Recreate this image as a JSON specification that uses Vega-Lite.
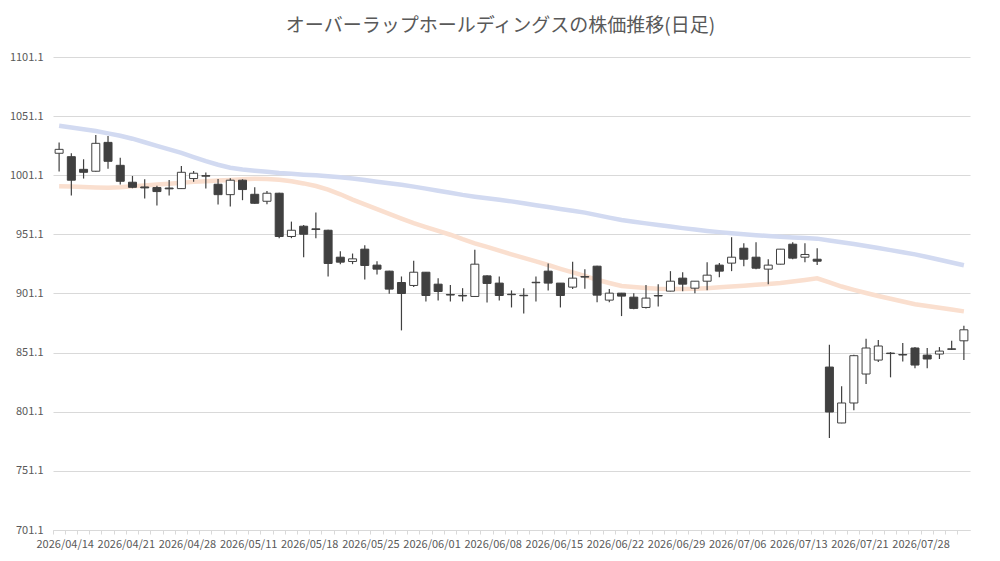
{
  "$schema": "https://vega.github.io/schema/vega-lite/v6.json",
  "autosize": "none",
  "width": 917,
  "height": 473,
  "padding": {"left": 53, "top": 57, "right": 30, "bottom": 31},
  "background": "white",
  "title": {
    "text": "オーバーラップホールディングスの株価推移(日足)",
    "font": "Noto Sans CJK JP",
    "fontSize": 19,
    "fontWeight": "normal",
    "color": "#595959",
    "offset": 15,
    "dx": -11
  },
  "config": {"view": {"stroke": null}, "font": "Noto Sans CJK JP"},
  "data": {
    "values": [
      {"d": "2026/04/14", "o": 1019.7, "h": 1028.9, "l": 1004.2, "c": 1023.0, "m1": 1043.0, "m2": 991.8},
      {"d": "2026/04/15", "o": 1016.8, "h": 1019.7, "l": 983.9, "c": 996.9, "m1": 1041.5, "m2": 991.5},
      {"d": "2026/04/16", "o": 1006.1, "h": 1014.6, "l": 998.3, "c": 1003.6, "m1": 1040.0, "m2": 991.2},
      {"d": "2026/04/17", "o": 1004.5, "h": 1035.1, "l": 1004.0, "c": 1028.1, "m1": 1038.5, "m2": 990.8},
      {"d": "2026/04/20", "o": 1028.9, "h": 1034.3, "l": 1006.7, "c": 1012.9, "m1": 1036.5, "m2": 990.6},
      {"d": "2026/04/21", "o": 1009.5, "h": 1016.0, "l": 993.2, "c": 996.0, "m1": 1034.5, "m2": 991.0},
      {"d": "2026/04/22", "o": 995.2, "h": 1000.5, "l": 990.1, "c": 990.9, "m1": 1032.0, "m2": 991.7},
      {"d": "2026/04/23", "o": 991.2, "h": 997.7, "l": 981.4, "c": 990.4, "m1": 1029.0, "m2": 992.4},
      {"d": "2026/04/24", "o": 990.7, "h": 992.3, "l": 975.5, "c": 987.3, "m1": 1026.0, "m2": 993.2},
      {"d": "2026/04/27", "o": 990.3, "h": 997.1, "l": 983.9, "c": 989.6, "m1": 1023.0, "m2": 994.0},
      {"d": "2026/04/28", "o": 989.8, "h": 1009.0, "l": 989.4, "c": 1003.6, "m1": 1020.0, "m2": 994.8},
      {"d": "2026/04/30", "o": 998.3, "h": 1004.7, "l": 995.7, "c": 1002.8, "m1": 1016.5, "m2": 995.5},
      {"d": "2026/05/01", "o": 1000.8, "h": 1003.4, "l": 989.8, "c": 1000.3, "m1": 1013.0, "m2": 996.1},
      {"d": "2026/05/07", "o": 993.5, "h": 998.0, "l": 976.3, "c": 984.7, "m1": 1010.0, "m2": 996.6},
      {"d": "2026/05/08", "o": 984.7, "h": 998.5, "l": 974.6, "c": 996.9, "m1": 1007.5, "m2": 997.1},
      {"d": "2026/05/11", "o": 996.9, "h": 997.7, "l": 980.0, "c": 989.0, "m1": 1006.0, "m2": 997.7},
      {"d": "2026/05/12", "o": 985.0, "h": 990.9, "l": 977.0, "c": 977.4, "m1": 1005.0, "m2": 998.2},
      {"d": "2026/05/13", "o": 979.1, "h": 987.8, "l": 976.6, "c": 985.9, "m1": 1004.0, "m2": 998.0},
      {"d": "2026/05/14", "o": 985.9, "h": 986.2, "l": 947.9, "c": 949.3, "m1": 1003.0, "m2": 997.3},
      {"d": "2026/05/15", "o": 949.3, "h": 961.9, "l": 947.9, "c": 954.6, "m1": 1002.3, "m2": 996.0},
      {"d": "2026/05/18", "o": 958.0, "h": 959.0, "l": 931.8, "c": 951.2, "m1": 1001.6, "m2": 994.2},
      {"d": "2026/05/19", "o": 955.8, "h": 969.5, "l": 947.9, "c": 955.2, "m1": 1001.0, "m2": 992.0},
      {"d": "2026/05/20", "o": 954.6, "h": 955.0, "l": 915.5, "c": 926.5, "m1": 1000.3, "m2": 989.0},
      {"d": "2026/05/21", "o": 931.8, "h": 936.9, "l": 925.9, "c": 927.6, "m1": 999.5, "m2": 985.0},
      {"d": "2026/05/22", "o": 928.2, "h": 934.9, "l": 925.9, "c": 930.4, "m1": 998.3, "m2": 980.5},
      {"d": "2026/05/25", "o": 938.6, "h": 941.9, "l": 913.0, "c": 924.8, "m1": 997.0, "m2": 976.5},
      {"d": "2026/05/26", "o": 925.1, "h": 928.4, "l": 917.2, "c": 921.7, "m1": 995.6, "m2": 972.5},
      {"d": "2026/05/27", "o": 920.0, "h": 920.3, "l": 900.9, "c": 904.8, "m1": 994.3, "m2": 968.5},
      {"d": "2026/05/28", "o": 910.4, "h": 915.5, "l": 869.9, "c": 901.1, "m1": 993.0, "m2": 964.5},
      {"d": "2026/05/29", "o": 907.9, "h": 928.7, "l": 906.5, "c": 919.1, "m1": 991.5, "m2": 960.6},
      {"d": "2026/06/01", "o": 919.1, "h": 919.3, "l": 894.4, "c": 899.4, "m1": 989.8, "m2": 957.3},
      {"d": "2026/06/02", "o": 909.0, "h": 914.1, "l": 895.2, "c": 902.8, "m1": 988.0, "m2": 954.0},
      {"d": "2026/06/03", "o": 900.3, "h": 908.2, "l": 894.4, "c": 899.8, "m1": 986.3, "m2": 950.8},
      {"d": "2026/06/04", "o": 899.5, "h": 905.6, "l": 894.4, "c": 899.0, "m1": 984.5, "m2": 947.0},
      {"d": "2026/06/05", "o": 898.6, "h": 938.0, "l": 898.4, "c": 925.9, "m1": 983.0, "m2": 943.5},
      {"d": "2026/06/08", "o": 916.0, "h": 916.6, "l": 893.5, "c": 909.6, "m1": 981.6, "m2": 940.5},
      {"d": "2026/06/09", "o": 909.9, "h": 915.5, "l": 895.2, "c": 899.4, "m1": 980.3, "m2": 937.3},
      {"d": "2026/06/10", "o": 900.5, "h": 903.7, "l": 889.3, "c": 900.1, "m1": 979.0, "m2": 934.2},
      {"d": "2026/06/11", "o": 899.6, "h": 905.6, "l": 884.2, "c": 899.2, "m1": 977.4, "m2": 931.2},
      {"d": "2026/06/12", "o": 910.6, "h": 915.5, "l": 894.4, "c": 910.2, "m1": 975.8, "m2": 928.2},
      {"d": "2026/06/15", "o": 920.0, "h": 926.5, "l": 903.7, "c": 909.9, "m1": 974.2, "m2": 925.2},
      {"d": "2026/06/16", "o": 909.9, "h": 910.0, "l": 889.3, "c": 899.4, "m1": 972.6, "m2": 922.0},
      {"d": "2026/06/17", "o": 906.5, "h": 927.9, "l": 904.8, "c": 914.1, "m1": 971.0, "m2": 919.0},
      {"d": "2026/06/18", "o": 915.4, "h": 921.7, "l": 905.1, "c": 915.0, "m1": 969.5, "m2": 916.0},
      {"d": "2026/06/19", "o": 924.2, "h": 924.5, "l": 893.8, "c": 899.7, "m1": 967.4, "m2": 912.7},
      {"d": "2026/06/22", "o": 895.5, "h": 904.8, "l": 893.8, "c": 901.4, "m1": 965.3, "m2": 910.0},
      {"d": "2026/06/23", "o": 901.4, "h": 901.6, "l": 882.0, "c": 898.9, "m1": 963.3, "m2": 907.5},
      {"d": "2026/06/24", "o": 898.0, "h": 901.4, "l": 887.8, "c": 888.5, "m1": 961.8, "m2": 906.5},
      {"d": "2026/06/25", "o": 889.3, "h": 908.2, "l": 888.5, "c": 897.2, "m1": 960.4, "m2": 905.7},
      {"d": "2026/06/26", "o": 899.4, "h": 909.0, "l": 890.1, "c": 899.0, "m1": 959.0, "m2": 905.1},
      {"d": "2026/06/29", "o": 903.1, "h": 920.0, "l": 902.9, "c": 911.5, "m1": 957.7, "m2": 905.0},
      {"d": "2026/06/30", "o": 914.1, "h": 919.1, "l": 903.1, "c": 909.0, "m1": 956.4, "m2": 905.0},
      {"d": "2026/07/01", "o": 905.6, "h": 911.7, "l": 901.4, "c": 911.5, "m1": 955.2, "m2": 905.1},
      {"d": "2026/07/02", "o": 911.5, "h": 927.6, "l": 903.9, "c": 916.6, "m1": 954.0, "m2": 905.6},
      {"d": "2026/07/03", "o": 925.1, "h": 926.8, "l": 914.9, "c": 920.0, "m1": 953.0, "m2": 906.3},
      {"d": "2026/07/06", "o": 926.8, "h": 948.7, "l": 920.0, "c": 931.8, "m1": 952.0, "m2": 907.0},
      {"d": "2026/07/07", "o": 939.4, "h": 943.6, "l": 924.2, "c": 930.1, "m1": 951.2, "m2": 907.7},
      {"d": "2026/07/08", "o": 931.8, "h": 944.5, "l": 921.7, "c": 922.5, "m1": 950.4, "m2": 908.4},
      {"d": "2026/07/09", "o": 921.7, "h": 930.1, "l": 909.0, "c": 925.1, "m1": 949.7, "m2": 909.2},
      {"d": "2026/07/10", "o": 925.9, "h": 938.8, "l": 925.7, "c": 938.6, "m1": 949.0, "m2": 910.0},
      {"d": "2026/07/13", "o": 942.8, "h": 944.5, "l": 930.1, "c": 931.0, "m1": 948.5, "m2": 911.3},
      {"d": "2026/07/14", "o": 931.8, "h": 943.6, "l": 927.6, "c": 934.1, "m1": 948.0, "m2": 912.6},
      {"d": "2026/07/15", "o": 930.1, "h": 939.4, "l": 925.1, "c": 928.4, "m1": 947.5, "m2": 914.0},
      {"d": "2026/07/16", "o": 838.9, "h": 857.8, "l": 778.9, "c": 800.9, "m1": 946.0, "m2": 910.5},
      {"d": "2026/07/17", "o": 791.6, "h": 822.6, "l": 791.4, "c": 808.5, "m1": 944.5, "m2": 907.0},
      {"d": "2026/07/21", "o": 808.5, "h": 849.3, "l": 802.3, "c": 848.5, "m1": 943.0, "m2": 904.2},
      {"d": "2026/07/22", "o": 833.0, "h": 862.9, "l": 824.6, "c": 855.0, "m1": 941.2, "m2": 901.5},
      {"d": "2026/07/23", "o": 844.8, "h": 861.7, "l": 843.1, "c": 856.7, "m1": 939.5, "m2": 899.0},
      {"d": "2026/07/24", "o": 850.7, "h": 851.6, "l": 830.2, "c": 850.3, "m1": 937.8, "m2": 896.7},
      {"d": "2026/07/27", "o": 849.5, "h": 859.2, "l": 843.7, "c": 849.1, "m1": 936.0, "m2": 894.3},
      {"d": "2026/07/28", "o": 855.0, "h": 855.8, "l": 837.8, "c": 840.6, "m1": 934.2, "m2": 892.0},
      {"d": "2026/07/29", "o": 849.0, "h": 855.0, "l": 837.8, "c": 845.7, "m1": 932.0, "m2": 890.5},
      {"d": "2026/07/30", "o": 849.9, "h": 855.8, "l": 845.7, "c": 852.4, "m1": 929.7, "m2": 889.0},
      {"d": "2026/07/31", "o": 854.3, "h": 861.1, "l": 853.3, "c": 853.9, "m1": 927.3, "m2": 887.5},
      {"d": "2026/08/03", "o": 861.1, "h": 873.8, "l": 844.8, "c": 870.4, "m1": 925.0, "m2": 886.0}
    ]
  },
  "encoding": {
    "x": {
      "field": "d",
      "type": "ordinal",
      "sort": null,
      "scale": {"type": "band", "paddingInner": 0, "paddingOuter": 0},
      "axis": {
        "title": null,
        "bandPosition": 0,
        "labelOffset": 6.1,
        "labelAngle": 0,
        "labelOverlap": false,
        "labelExpr": "indexof(['2026/04/14','2026/04/21','2026/04/28','2026/05/11','2026/05/18','2026/05/25','2026/06/01','2026/06/08','2026/06/15','2026/06/22','2026/06/29','2026/07/06','2026/07/13','2026/07/21','2026/07/28'], datum.value) >= 0 ? datum.value : ''",
        "labelColor": "#595959",
        "labelFontSize": 11,
        "labelPadding": 4,
        "tickSize": 4,
        "tickColor": "#d9d9d9",
        "domainColor": "#d9d9d9",
        "grid": false
      }
    }
  },
  "layer": [
    {
      "mark": {"type": "line", "color": "#d2daf1", "strokeWidth": 4.5},
      "encoding": {
        "y": {
          "field": "m1",
          "type": "quantitative",
          "scale": {"domain": [701.1, 1101.1], "nice": false, "zero": false},
          "axis": {
            "title": null,
            "values": [701.1, 751.1, 801.1, 851.1, 901.1, 951.1, 1001.1, 1051.1, 1101.1],
            "format": ".1f",
            "grid": true,
            "gridColor": "#d9d9d9",
            "domain": false,
            "ticks": false,
            "labelColor": "#595959",
            "labelFontSize": 11,
            "labelPadding": 10
          }
        }
      }
    },
    {
      "mark": {"type": "line", "color": "#fadfcf", "strokeWidth": 4.5},
      "encoding": {"y": {"field": "m2", "type": "quantitative"}}
    },
    {
      "mark": {"type": "rule", "color": "#404040", "strokeWidth": 1.2},
      "encoding": {
        "y": {"field": "l", "type": "quantitative"},
        "y2": {"field": "h"}
      }
    },
    {
      "mark": {"type": "bar", "width": 8, "stroke": "#404040", "strokeWidth": 1},
      "encoding": {
        "y": {"field": "o", "type": "quantitative"},
        "y2": {"field": "c"},
        "fill": {
          "condition": {"test": "datum.c >= datum.o", "value": "#ffffff"},
          "value": "#404040"
        }
      }
    }
  ]
}
